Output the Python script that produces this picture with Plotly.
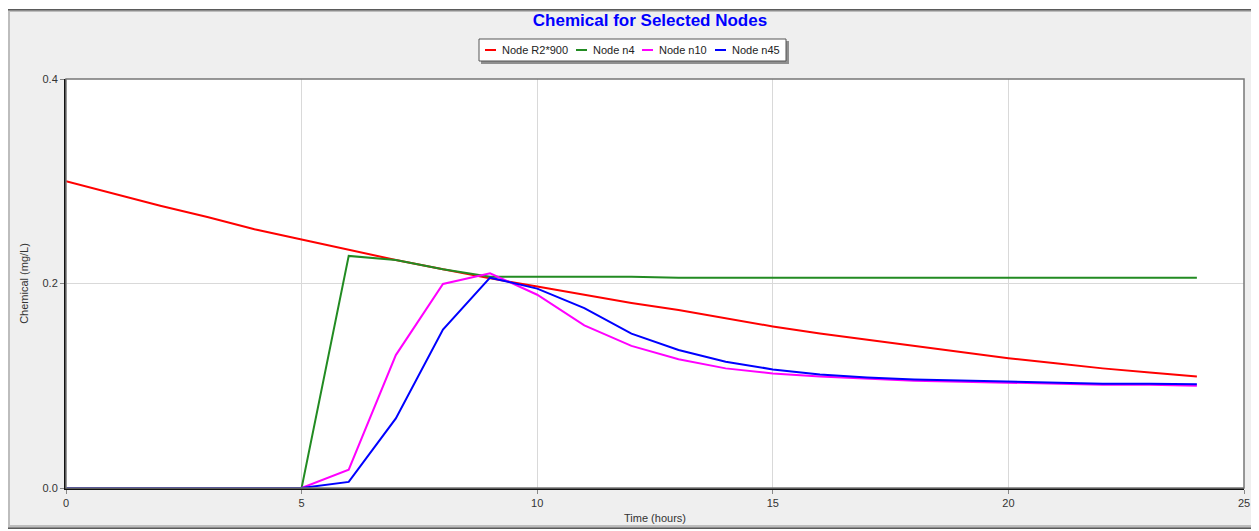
import plotly.graph_objects as go

hours = list(range(0, 25))
red_r2900 = [0.300, 0.288, 0.276, 0.265, 0.253, 0.243, 0.233, 0.223, 0.214, 0.205,
             0.197, 0.189, 0.181, 0.174, 0.166, 0.158, 0.151, 0.145, 0.139, 0.133,
             0.127, 0.122, 0.117, 0.113, 0.109]
green_n4 = [0, 0, 0, 0, 0, 0, 0.227, 0.223, 0.214, 0.2065,
            0.2065, 0.2065, 0.2065, 0.2057, 0.2057, 0.2057, 0.2057, 0.2057, 0.2057, 0.2057,
            0.2057, 0.2057, 0.2057, 0.2057, 0.2057]
magenta_n10 = [0, 0, 0, 0, 0, 0, 0.018, 0.130, 0.1995, 0.210,
               0.189, 0.159, 0.139, 0.126, 0.117, 0.112, 0.109, 0.107, 0.105, 0.104,
               0.103, 0.102, 0.101, 0.101, 0.100]
blue_n45 = [0, 0, 0, 0, 0, 0, 0.006, 0.068, 0.155, 0.2057,
            0.195, 0.176, 0.151, 0.135, 0.1235, 0.116, 0.111, 0.108, 0.106, 0.105,
            0.104, 0.103, 0.102, 0.102, 0.1015]

series_names = ["Node R2*900", "Node n4", "Node n10", "Node n45"]
series_values = [red_r2900, green_n4, magenta_n10, blue_n45]
series_colors = ["#ff0000", "#228b22", "#ff00ff", "#0000ff"]

x_ticks = [0, 5, 10, 15, 20, 25]
y_ticks = [0.0, 0.2, 0.4]

fig = go.Figure()
for name, vals, col in zip(series_names, series_values, series_colors):
    fig.add_trace(go.Scatter(x=hours, y=vals, name=name, mode="lines",
                             line=dict(color=col, width=2)))

font_family = "Liberation Sans, Arial, sans-serif"

# The page body has an 8px margin; work in page pixels and convert.
OFF = 8
W, H = 1259 - OFF, 531 - OFF
pl, pr, pt, pb = 66.0, 1244.0, 79.0, 488.0  # plot area in page pixels
pw, ph = pr - pl, pb - pt

def px2x(px):
    return (px - pl) / pw

def py2y(py):
    return (pb - py) / ph

fig.update_layout(
    width=W, height=H,
    margin=dict(l=pl - OFF, r=1259 - pr, t=pt - OFF, b=531 - pb, autoexpand=False),
    paper_bgcolor="#ffffff",
    plot_bgcolor="#ffffff",
    font=dict(family=font_family, size=11, color="#333333"),
    title=dict(text="<b>Chemical for Selected Nodes</b>",
               x=(650 - OFF) / W, xanchor="center",
               y=1 - (20 - OFF) / H, yanchor="middle",
               font=dict(family=font_family, size=17, color="#0000ff")),
    showlegend=False,
    xaxis=dict(range=[0, 25], tickvals=x_ticks, ticks="outside", automargin=False,
               ticklen=4, tickcolor="#888888", showgrid=True, gridcolor="#d9d9d9",
               gridwidth=1, zeroline=False, showline=True, linecolor="#111111",
               linewidth=2, title=dict(text="Time (hours)", standoff=6,
                                       font=dict(size=11, color="#333333")),
               tickfont=dict(size=11, color="#333333")),
    yaxis=dict(range=[0, 0.4], tickvals=y_ticks, tickformat=".1f", automargin=False,
               ticks="outside", ticklen=4, tickcolor="#888888", showgrid=True,
               gridcolor="#d9d9d9", gridwidth=1, zeroline=False, showline=True,
               linecolor="#111111", linewidth=2,
               title=dict(text="Chemical (mg/L)", standoff=12,
                          font=dict(size=11, color="#333333")),
               tickfont=dict(size=11, color="#333333")),
)

def prect(x0, x1, y0, y1, fill, layer="below", line=None):
    fig.add_shape(type="rect", xref="paper", yref="paper", layer=layer,
                  x0=px2x(x0), x1=px2x(x1), y0=py2y(y1), y1=py2y(y0),
                  fillcolor=fill, line=line or dict(width=0))

# outer panel with shaded border
prect(6, 1256, 9, 529, "#5a5a5a")
prect(7, 1255, 10, 528, "#8c8c8c")
prect(8, 1254, 11, 527, "#bdbdbd")
prect(10, 1252, 12, 525, "#efefef")
# white plot area
prect(pl, pr, pt, pb, "#ffffff")
# legend shadow + box
prect(481, 789, 41, 64, "#8f8f8f")
prect(479, 786, 39, 61, "#ffffff", line=dict(color="#555555", width=1))

# legend entries (swatch start, text start) in page pixels
legend_swatch_x = [485, 576, 642, 715]
legend_text_x = [500, 591, 657, 730]
ly = 50
for name, col, sx, tx in zip(series_names, series_colors, legend_swatch_x, legend_text_x):
    fig.add_shape(type="line", xref="paper", yref="paper", layer="above",
                  x0=px2x(sx), x1=px2x(sx + 11), y0=py2y(ly), y1=py2y(ly),
                  line=dict(color=col, width=2))
    fig.add_annotation(xref="paper", yref="paper", x=px2x(tx), y=py2y(ly),
                       xanchor="left", yanchor="middle", showarrow=False,
                       text=name, font=dict(family=font_family, size=11, color="#222222"))

# plot frame top/right
fig.add_shape(type="rect", xref="paper", yref="paper", layer="above",
              x0=0, x1=1, y0=0, y1=1, line=dict(color="#777777", width=1.5))

fig.write_html("out.html")
